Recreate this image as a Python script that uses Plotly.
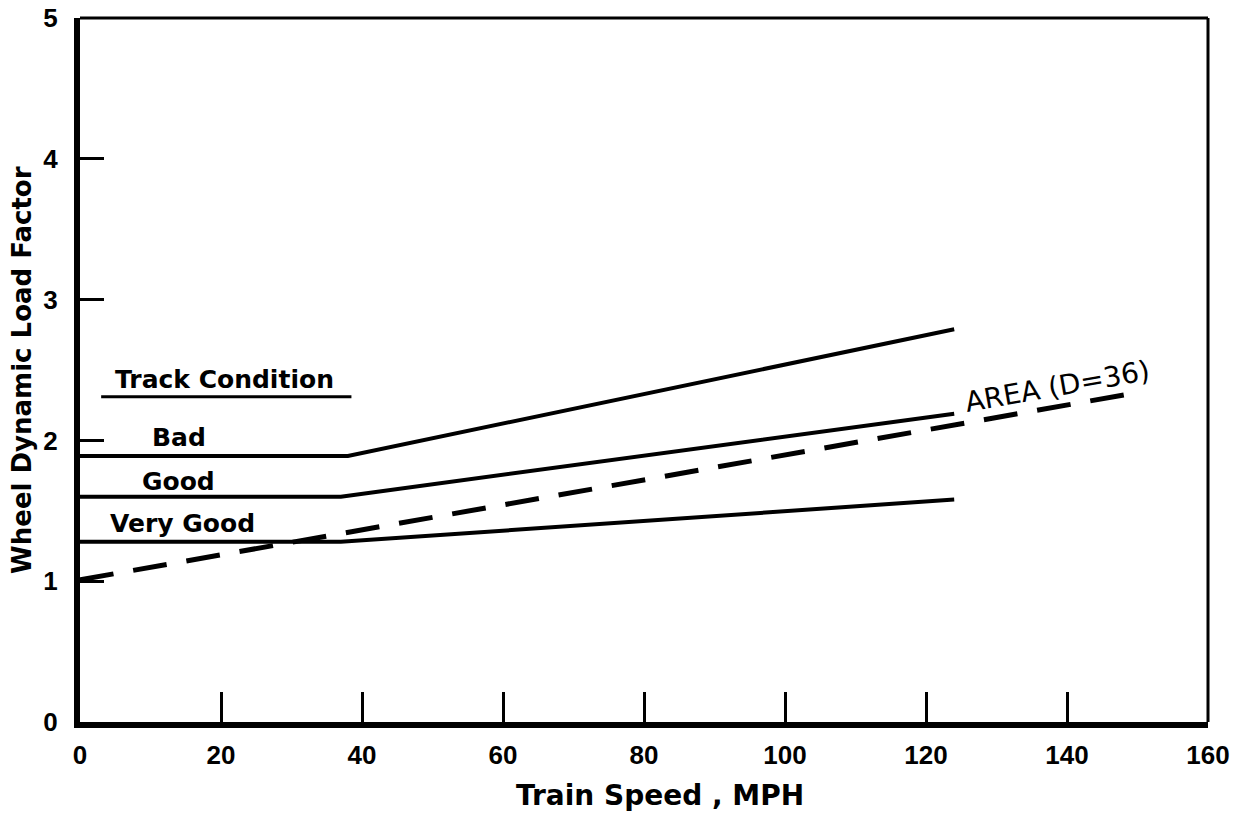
import plotly.graph_objects as go

# Data
speed_bad = [0, 38, 124]
load_bad = [1.89, 1.89, 2.79]

speed_good = [0, 37, 124]
load_good = [1.60, 1.60, 2.19]

speed_very_good = [0, 37, 124]
load_very_good = [1.28, 1.28, 1.58]

speed_area = [0, 150]
load_area = [1.01, 2.34]

x_ticks = [0, 20, 40, 60, 80, 100, 120, 140, 160]
y_ticks = [0, 1, 2, 3, 4, 5]

FONT = "DejaVu Sans"
TICKFONT = "Liberation Sans"

fig = go.Figure()
solid = dict(color="black", width=4)
fig.add_trace(go.Scatter(x=speed_bad, y=load_bad, mode="lines", line=solid, name="Bad"))
fig.add_trace(go.Scatter(x=speed_good, y=load_good, mode="lines", line=solid, name="Good"))
fig.add_trace(go.Scatter(x=speed_very_good, y=load_very_good, mode="lines", line=solid, name="Very Good"))
fig.add_trace(go.Scatter(x=speed_area, y=load_area, mode="lines",
                         line=dict(color="black", width=5, dash="34px,20px"), name="AREA (D=36)"))

fig.update_layout(
    width=1241, height=825,
    margin=dict(l=80, r=33, t=18, b=103, autoexpand=False),
    paper_bgcolor="white", plot_bgcolor="white",
    showlegend=False,
    font=dict(family=FONT, color="black"),
)
fig.update_xaxes(
    range=[0, 160], tickvals=x_ticks, ticktext=[str(v) for v in x_ticks],
    showgrid=False, zeroline=False, automargin=False,
    showline=True, linewidth=6, linecolor="black", mirror=False,
    ticks="inside", ticklen=30, tickwidth=3, tickcolor="black",
    ticklabelstandoff=5, ticklabeloverflow="allow",
    tickfont=dict(family=TICKFONT, size=26, weight="bold"),
)
fig.update_yaxes(
    range=[0, 5], tickvals=y_ticks, ticktext=[str(v) for v in y_ticks],
    showgrid=False, zeroline=False, automargin=False,
    showline=True, linewidth=6, linecolor="black", mirror=False,
    ticks="inside", ticklen=24, tickwidth=3, tickcolor="black",
    ticklabelstandoff=11, ticklabeloverflow="allow",
    tickfont=dict(family=TICKFONT, size=26, weight="bold"),
)

# thinner top and right frame
fig.add_shape(type="line", xref="paper", yref="paper", x0=0, x1=1, y0=1, y1=1,
              line=dict(color="black", width=3))
fig.add_shape(type="line", xref="paper", yref="paper", x0=1, x1=1, y0=0, y1=1,
              line=dict(color="black", width=3))

# "Track Condition" heading with underline
fig.add_annotation(x=20.5, y=2.43, text="Track Condition", showarrow=False,
                   xanchor="center", yanchor="middle",
                   font=dict(family=FONT, size=25, weight="bold"))
fig.add_shape(type="line", x0=3, x1=38.5, y0=2.31, y1=2.31, line=dict(color="black", width=3))

for label, yv, xv in [("Bad", 2.02, 14), ("Good", 1.71, 14), ("Very Good", 1.41, 14.5)]:
    fig.add_annotation(x=xv, y=yv, text=label, showarrow=False,
                       xanchor="center", yanchor="middle",
                       font=dict(family=FONT, size=25, weight="bold"))

fig.add_annotation(x=138.6, y=2.38, text="AREA (D=36)", showarrow=False, textangle=-10,
                   xanchor="center", yanchor="middle",
                   font=dict(family=FONT, size=28))

# axis titles
fig.add_annotation(xref="paper", yref="paper", x=0.514, y=-0.105, text="Train Speed , MPH",
                   xanchor="center", yanchor="middle",
                   showarrow=False, font=dict(family=FONT, size=28, weight="bold"))
fig.add_annotation(xref="paper", yref="paper", x=-0.0515, y=0.5, text="Wheel Dynamic Load Factor",
                   xanchor="center", yanchor="middle",
                   showarrow=False, textangle=-90, font=dict(family=FONT, size=26, weight="bold"))

fig.write_html("out.html", config={"displayModeBar": False},
               post_script="document.body.style.margin='0';")
